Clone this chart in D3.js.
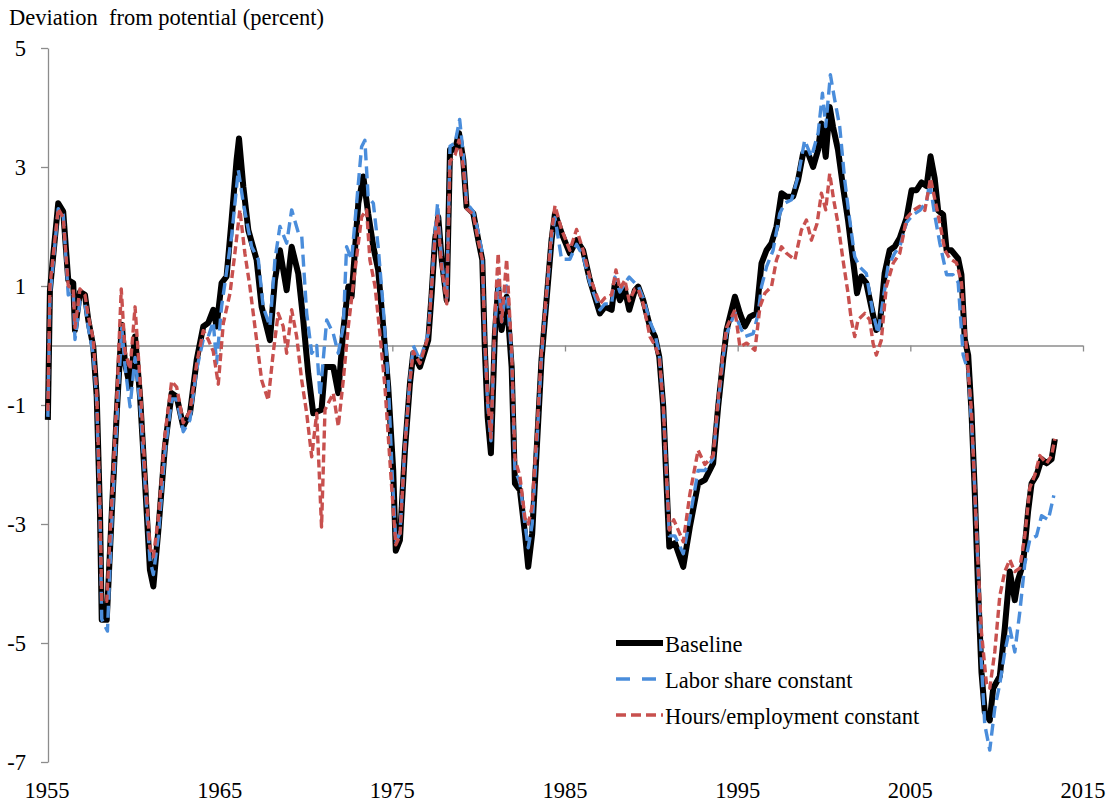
<!DOCTYPE html>
<html>
<head>
<meta charset="utf-8">
<script src="https://cdn.jsdelivr.net/npm/d3@7"></script>
<style>
    body { margin: 0; background: #fff; }
    svg { font-family: "Liberation Serif", "Times New Roman", serif; }
</style>
</head>
<body>
<svg class="main"></svg>
<script>
// [year, percent deviation]
var baseline = [
    [1955.05,-1.25],[1955.17,0.93],[1955.65,2.39],[1955.94,2.25],[1956.23,1.10],[1956.52,1.05],
    [1956.62,0.26],[1956.91,0.9],[1957.2,0.85],[1957.39,0.43],[1957.68,-0.02],[1957.88,-0.86],
    [1958.07,-2.82],[1958.17,-4.61],[1958.46,-4.61],[1958.75,-2.82],[1959.04,-1.14],[1959.33,0.35],
    [1959.52,-0.3],[1959.81,-0.69],[1960.1,0.15],[1960.39,-0.86],[1960.67,-2.26],[1960.96,-3.77],
    [1961.16,-4.05],[1961.45,-3.1],[1961.83,-1.70],[1962.22,-0.80],[1962.51,-0.86],[1962.89,-1.36],
    [1963.28,-1.14],[1963.67,-0.24],[1964.05,0.32],[1964.34,0.38],[1964.63,0.6],[1964.82,0.32],
    [1965.11,1.05],[1965.4,1.16],[1965.69,2.11],[1965.98,3.12],[1966.12,3.48],[1966.37,2.67],
    [1966.66,1.94],[1967.14,1.44],[1967.43,0.65],[1967.91,0.09],[1968.2,1.1],[1968.49,1.6],
    [1968.88,0.93],[1969.17,1.66],[1969.55,1.21],[1969.84,0.43],[1970.13,-0.47],[1970.42,-1.14],
    [1970.9,-1.08],[1971.1,-0.36],[1971.58,-0.36],[1971.87,-0.8],[1972.16,0.26],[1972.45,0.99],
    [1972.64,0.82],[1973.03,2.39],[1973.32,2.84],[1973.6,2.22],[1973.9,1.66],[1974.18,1.27],
    [1974.47,0.32],[1974.76,-0.69],[1975.05,-2.09],[1975.2,-3.45],[1975.44,-3.27],[1975.73,-1.76],
    [1976.02,-0.64],[1976.21,-0.13],[1976.6,-0.36],[1977.08,0.09],[1977.28,0.88],[1977.47,1.77],
    [1977.66,2.16],[1977.86,1.44],[1978.15,0.76],[1978.34,3.29],[1978.63,3.29],[1978.86,3.57],
    [1979.11,3.12],[1979.3,2.33],[1979.69,2.22],[1979.98,1.77],[1980.21,1.44],[1980.36,-0.08],
    [1980.52,-1.2],[1980.71,-1.81],[1980.94,0.2],[1981.13,0.99],[1981.33,0.26],[1981.62,0.82],
    [1981.91,-0.36],[1982.1,-2.32],[1982.39,-2.43],[1982.68,-3.16],[1982.87,-3.72],[1983.1,-3.16],
    [1983.36,-1.76],[1983.64,-0.24],[1983.93,0.76],[1984.22,1.77],[1984.42,2.22],[1984.8,1.89],
    [1985.28,1.55],[1985.67,1.77],[1986.05,1.6],[1986.44,1.1],[1987.02,0.54],[1987.31,0.65],
    [1987.7,0.6],[1987.89,1.05],[1988.18,0.76],[1988.47,0.93],[1988.72,0.6],[1989.05,0.93],
    [1989.24,0.99],[1989.53,0.76],[1989.92,0.32],[1990.21,0.15],[1990.46,-0.19],[1990.69,-1.03],
    [1990.88,-2.32],[1991.04,-3.38],[1991.37,-3.32],[1991.85,-3.72],[1992.23,-3.05],[1992.71,-2.32],
    [1993.1,-2.26],[1993.58,-1.98],[1993.87,-1.03],[1994.16,-0.24],[1994.36,0.26],[1994.84,0.82],
    [1995.13,0.54],[1995.42,0.32],[1995.71,0.48],[1996.09,0.54],[1996.38,1.38],[1996.67,1.6],
    [1996.96,1.72],[1997.25,2.0],[1997.54,2.56],[1997.83,2.5],[1998.21,2.5],[1998.5,2.78],
    [1998.79,3.23],[1999.08,3.23],[1999.37,3.0],[1999.66,3.29],[1999.85,3.73],[2000.1,3.17],
    [2000.33,4.01],[2000.52,3.68],[2000.81,3.29],[2001.1,2.67],[2001.39,2.11],[2001.58,1.66],
    [2001.78,1.21],[2001.91,0.88],[2002.16,1.16],[2002.45,1.05],[2002.74,0.65],[2003.03,0.26],
    [2003.22,0.32],[2003.51,1.21],[2003.8,1.6],[2004.09,1.66],[2004.38,1.8],[2004.78,2.14],
    [2005.07,2.61],[2005.36,2.61],[2005.65,2.74],[2005.94,2.68],[2006.17,3.18],[2006.41,2.81],
    [2006.61,2.27],[2006.9,2.2],[2007.1,1.6],[2007.38,1.6],[2007.77,1.46],[2007.96,1.19],
    [2008.15,0.11],[2008.35,-0.16],[2008.54,-1.10],[2008.73,-2.45],[2008.93,-4.14],[2009.12,-5.49],
    [2009.31,-6.16],[2009.6,-6.3],[2009.8,-5.76],[2010.18,-5.56],[2010.47,-4.75],[2010.76,-3.8],
    [2011.05,-4.28],[2011.24,-3.94],[2011.53,-3.67],[2011.82,-2.79],[2012.02,-2.32],[2012.31,-2.18],
    [2012.6,-1.91],[2012.89,-1.98],[2013.18,-1.91],[2013.37,-1.57]
];

var laborShareConstant = [
    [1955.05,-1.2],[1955.17,0.8],[1955.65,2.3],[1955.94,2.2],[1956.23,0.85],[1956.52,0.9],
    [1956.62,0.1],[1956.91,0.75],[1957.2,0.7],[1957.39,0.3],[1957.68,-0.15],[1957.88,-0.95],
    [1958.07,-2.9],[1958.17,-4.6],[1958.5,-4.8],[1958.75,-3.0],[1959.04,-1.3],[1959.33,0.3],
    [1959.52,-0.35],[1959.81,-1.03],[1960.1,-0.2],[1960.39,-1.0],[1960.67,-2.3],[1960.96,-3.6],
    [1961.16,-3.85],[1961.45,-3.2],[1961.83,-1.8],[1962.22,-0.9],[1962.51,-0.9],[1962.89,-1.45],
    [1963.28,-1.25],[1963.67,-0.4],[1964.05,0.1],[1964.34,0.15],[1964.63,0.4],[1964.82,-0.3],
    [1965.11,0.65],[1965.69,1.83],[1966.08,2.95],[1966.37,2.39],[1966.85,1.66],[1967.24,1.44],
    [1967.52,0.65],[1967.91,0.32],[1968.2,1.44],[1968.49,2.0],[1968.88,1.72],[1969.17,2.28],
    [1969.55,1.9],[1969.75,1.85],[1970.04,0.54],[1970.33,-0.13],[1970.62,0.0],[1970.81,-0.86],
    [1971.2,0.43],[1971.58,0.2],[1971.87,-0.13],[1972.16,0.32],[1972.35,1.66],[1972.64,1.44],
    [1972.93,2.39],[1973.22,3.34],[1973.41,3.45],[1973.6,2.5],[1973.9,2.39],[1974.18,1.66],
    [1974.47,0.65],[1974.76,-0.58],[1975.0,-2.2],[1975.2,-3.3],[1975.44,-3.15],[1975.73,-1.7],
    [1976.02,-0.55],[1976.21,0.0],[1976.6,-0.25],[1977.08,0.2],[1977.28,1.0],[1977.47,1.9],
    [1977.62,2.39],[1977.86,1.4],[1978.15,0.8],[1978.34,3.35],[1978.63,3.4],[1978.9,3.8],
    [1979.11,3.2],[1979.3,2.4],[1979.69,2.25],[1979.98,1.9],[1980.21,1.55],[1980.36,0.0],
    [1980.52,-1.0],[1980.71,-1.6],[1980.94,0.3],[1981.13,1.1],[1981.33,0.4],[1981.62,1.0],
    [1981.91,-0.2],[1982.1,-2.1],[1982.39,-2.3],[1982.68,-3.0],[1982.87,-3.4],[1983.1,-3.0],
    [1983.36,-1.7],[1983.64,-0.2],[1983.93,0.8],[1984.22,1.8],[1984.42,2.15],[1984.8,1.45],
    [1985.28,1.45],[1985.67,1.7],[1986.05,1.5],[1986.44,1.05],[1987.02,0.6],[1987.31,0.7],
    [1987.7,0.7],[1987.89,1.15],[1988.18,0.9],[1988.47,1.05],[1988.72,1.15],[1989.05,1.05],
    [1989.24,1.0],[1989.53,0.8],[1989.92,0.4],[1990.21,0.2],[1990.46,-0.15],[1990.69,-1.0],
    [1990.88,-2.2],[1991.04,-3.2],[1991.37,-3.2],[1991.85,-3.5],[1992.23,-2.9],[1992.71,-2.1],
    [1993.1,-2.1],[1993.58,-1.9],[1993.87,-1.0],[1994.16,-0.2],[1994.36,0.2],[1994.84,0.55],
    [1995.13,0.32],[1995.42,0.15],[1995.9,0.2],[1996.19,0.54],[1996.38,0.99],[1996.67,1.32],
    [1997.05,1.6],[1997.44,2.22],[1997.73,2.39],[1998.12,2.45],[1998.5,2.84],[1998.88,3.45],
    [1999.27,3.17],[1999.66,3.57],[1999.91,4.24],[2000.1,3.68],[2000.37,4.55],[2000.62,4.13],
    [2000.91,3.68],[2001.2,2.78],[2001.49,2.11],[2001.78,1.49],[2002.07,1.32],[2002.45,1.21],
    [2002.84,0.54],[2003.13,0.2],[2003.42,0.76],[2003.7,1.32],[2004.09,1.55],[2004.39,1.66],
    [2004.78,2.07],[2005.17,2.2],[2005.55,2.27],[2005.94,2.41],[2006.12,2.74],[2006.41,2.2],
    [2006.7,1.73],[2007.1,1.19],[2007.47,1.19],[2007.77,1.06],[2008.06,-0.16],[2008.35,-0.43],
    [2008.64,-1.78],[2008.93,-3.8],[2009.12,-5.35],[2009.31,-6.37],[2009.6,-6.8],[2009.89,-6.1],
    [2010.18,-5.69],[2010.47,-5.15],[2010.76,-4.75],[2011.05,-5.15],[2011.34,-4.48],[2011.63,-3.67],
    [2011.92,-3.26],[2012.31,-3.2],[2012.6,-2.86],[2012.99,-2.93],[2013.31,-2.52]
];

var hoursConstant = [
    [1955.05,-1.1],[1955.17,1.0],[1955.65,2.3],[1955.94,2.15],[1956.23,1.0],[1956.52,0.95],
    [1956.62,0.3],[1956.91,0.95],[1957.2,0.85],[1957.39,0.5],[1957.68,0.1],[1957.88,-0.8],
    [1958.07,-2.7],[1958.17,-4.3],[1958.46,-4.3],[1958.75,-2.6],[1959.04,-0.9],[1959.3,0.95],
    [1959.52,-0.1],[1959.81,-0.4],[1960.1,0.65],[1960.39,-0.6],[1960.67,-2.1],[1960.96,-3.4],
    [1961.16,-3.55],[1961.45,-2.9],[1961.83,-1.5],[1962.22,-0.6],[1962.51,-0.7],[1962.89,-1.3],
    [1963.28,-1.1],[1963.67,-0.3],[1964.05,0.25],[1964.34,0.1],[1964.63,-0.1],[1964.92,-0.65],
    [1965.21,0.37],[1965.6,0.88],[1965.88,1.55],[1966.17,2.28],[1966.46,1.55],[1966.75,0.99],
    [1967.04,0.32],[1967.43,-0.58],[1967.81,-0.92],[1968.1,-0.13],[1968.39,0.54],[1968.68,0.32],
    [1968.88,-0.13],[1969.17,0.6],[1969.46,0.15],[1969.75,-0.58],[1970.04,-1.14],[1970.33,-1.87],
    [1970.62,-1.14],[1970.9,-3.05],[1971.1,-1.08],[1971.58,-0.8],[1971.87,-1.36],[1972.16,-0.58],
    [1972.45,0.32],[1972.84,1.27],[1973.22,2.16],[1973.51,2.28],[1973.7,1.44],[1974.0,0.99],
    [1974.28,0.2],[1974.57,-0.69],[1974.96,-2.37],[1975.2,-3.35],[1975.44,-3.2],[1975.73,-1.7],
    [1976.02,-0.6],[1976.21,-0.1],[1976.6,-0.3],[1977.08,0.15],[1977.28,1.0],[1977.47,1.8],
    [1977.62,2.2],[1977.86,1.3],[1978.15,0.7],[1978.34,3.1],[1978.63,3.2],[1978.86,3.45],
    [1979.11,3.0],[1979.3,2.3],[1979.69,2.2],[1979.98,1.75],[1980.21,1.45],[1980.36,0.1],
    [1980.52,-0.9],[1980.71,-1.55],[1980.94,0.5],[1981.13,1.55],[1981.33,0.4],[1981.62,1.45],
    [1981.91,-0.1],[1982.1,-1.9],[1982.39,-2.2],[1982.68,-2.9],[1982.87,-3.0],[1983.1,-2.7],
    [1983.36,-1.5],[1983.64,-0.1],[1983.93,0.9],[1984.22,1.9],[1984.42,2.35],[1984.8,1.95],
    [1985.28,1.6],[1985.67,1.95],[1986.05,1.6],[1986.44,1.15],[1987.02,0.7],[1987.31,0.8],
    [1987.7,0.85],[1987.95,1.27],[1988.18,0.95],[1988.47,1.1],[1988.72,0.75],[1989.05,0.95],
    [1989.24,0.95],[1989.53,0.7],[1989.92,0.15],[1990.21,0.0],[1990.46,-0.2],[1990.69,-1.0],
    [1990.88,-2.2],[1991.04,-3.1],[1991.3,-2.93],[1991.85,-3.3],[1992.23,-2.5],[1992.71,-1.76],
    [1993.1,-2.0],[1993.58,-1.85],[1993.87,-0.9],[1994.16,-0.1],[1994.36,0.3],[1994.84,0.6],
    [1995.13,-0.02],[1995.52,0.04],[1996.0,-0.08],[1996.29,0.65],[1996.58,0.88],[1996.96,0.99],
    [1997.25,1.44],[1997.54,1.66],[1997.83,1.55],[1998.31,1.44],[1998.69,1.94],[1998.98,2.11],
    [1999.27,1.77],[1999.6,2.05],[1999.85,2.56],[2000.1,2.28],[2000.33,2.89],[2000.56,2.45],
    [2000.81,2.05],[2001.1,1.44],[2001.39,0.88],[2001.58,0.43],[2001.78,0.15],[2001.97,0.43],
    [2002.36,0.54],[2002.65,0.43],[2002.84,0.04],[2003.03,-0.16],[2003.32,0.09],[2003.61,0.99],
    [2004.0,1.38],[2004.39,1.55],[2004.78,2.14],[2005.17,2.27],[2005.55,2.34],[2005.84,2.27],
    [2006.17,2.81],[2006.41,2.47],[2006.7,2.07],[2007.0,1.6],[2007.29,1.46],[2007.67,1.39],
    [2007.96,1.06],[2008.25,-0.06],[2008.54,-1.1],[2008.83,-3.13],[2009.12,-4.82],[2009.41,-5.69],
    [2009.6,-5.76],[2009.89,-5.15],[2010.18,-4.21],[2010.47,-3.8],[2010.76,-3.6],[2011.05,-3.8],
    [2011.34,-3.74],[2011.63,-3.2],[2011.92,-2.39],[2012.21,-2.18],[2012.5,-1.85],[2012.89,-1.98],
    [2013.18,-1.85],[2013.37,-1.57]
];

var yTicks = [-7, -5, -3, -1, 1, 3, 5];
var xTicks = [1955, 1965, 1975, 1985, 1995, 2005, 2015];
var seriesNames = ['Baseline', 'Labor share constant', 'Hours/employment constant'];

const width = 1110;
const height = 804;
const axisColor = '#8c8c8c';
const fontSize = '22.5px';

var svg = d3.select('svg')
    .attr('width', width)
    .attr('height', height);

var x = d3.scaleLinear()
    .domain([1955, 2015])
    .range([47, 1083]);

var y = d3.scaleLinear()
    .domain([-7, 5])
    .range([762, 48]);

// title
svg.append('text')
    .attr('x', 9)
    .attr('y', 25)
    .style('font-size', fontSize)
    .style('white-space', 'pre')
    .text('Deviation  from potential (percent)');

// y axis on the left, plain hyphen for negatives
var yAxis = d3.axisLeft(y)
    .tickValues(yTicks)
    .tickSize(7)
    .tickPadding(15)
    .tickSizeOuter(0)
    .tickFormat(d => String(d));

var gY = svg.append('g')
    .attr('transform', 'translate(48,0)')
    .call(yAxis);

gY.selectAll('path, line').attr('stroke', axisColor).attr('stroke-width', 1.3);
gY.selectAll('text')
    .style('font-size', fontSize)
    .style('font-family', '"Liberation Serif", serif')
    .attr('fill', '#000');

// x axis crosses at zero, labels sit at the bottom
var xAxis = d3.axisBottom(x)
    .tickValues(xTicks)
    .tickSize(6)
    .tickSizeOuter(0)
    .tickFormat('');

var gX = svg.append('g')
    .attr('transform', `translate(0,${y(0)})`)
    .call(xAxis);

gX.select('.domain').attr('d', `M48,0.5H${x(2015)}`);
gX.selectAll('path, line').attr('stroke', axisColor).attr('stroke-width', 1.3);

svg.append('g')
    .selectAll('text')
    .data(xTicks)
    .enter().append('text')
    .attr('x', d => x(d))
    .attr('y', 798)
    .attr('text-anchor', 'middle')
    .style('font-size', fontSize)
    .text(d => d);

var line = d3.line()
    .x(d => x(d[0]))
    .y(d => y(d[1]));

var styles = [
    { stroke: '#000', width: 6, dash: null, legendDash: null },
    { stroke: '#4a8ddb', width: 3.4, dash: '12,6', legendDash: '14,12' },
    { stroke: '#c8504e', width: 3.4, dash: '8,4', legendDash: '10,5' }
];
var allSeries = [baseline, laborShareConstant, hoursConstant];

svg.append('g')
    .attr('class', 'lines')
    .selectAll('path')
    .data(allSeries)
    .enter().append('path')
    .attr('d', line)
    .attr('fill', 'none')
    .attr('stroke', (d, i) => styles[i].stroke)
    .attr('stroke-width', (d, i) => styles[i].width)
    .attr('stroke-dasharray', (d, i) => styles[i].dash)
    .attr('stroke-linejoin', 'round');

// legend
var legend = svg.append('g')
    .attr('class', 'legend')
    .selectAll('g')
    .data(seriesNames)
    .enter().append('g')
    .attr('transform', (d, i) => `translate(616,${643 + i * 36})`);

legend.append('line')
    .attr('x1', 0)
    .attr('x2', 47)
    .attr('stroke', (d, i) => styles[i].stroke)
    .attr('stroke-width', (d, i) => styles[i].width)
    .attr('stroke-dasharray', (d, i) => styles[i].legendDash);

legend.append('text')
    .attr('x', 49)
    .attr('y', 8.5)
    .style('font-size', fontSize)
    .text(d => d);
</script>
</body>
</html>
